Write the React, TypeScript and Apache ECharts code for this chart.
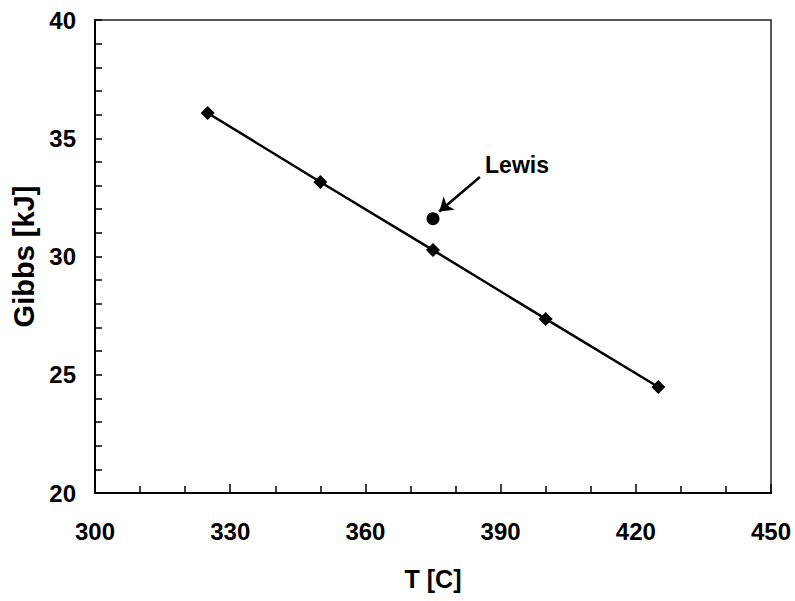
import React, { useEffect, useRef } from "react";
import * as echarts from "echarts";

const temps = [325, 350, 375, 400, 425];
const gibbs = [36.07, 33.15, 30.27, 27.36, 24.48];
const lewisPoint = [375, 31.6];
const arrowFrom = [385.4, 33.36];
const arrowTo = [376.4, 31.9];
const lewisLabel = "Lewis";

export default function App() {
  const ref = useRef<HTMLDivElement>(null);
  useEffect(() => {
    const chart = echarts.init(ref.current!, null, { renderer: "svg" });
    const font = "'Liberation Sans', Arial, sans-serif";
    chart.setOption({
      animation: false,
      backgroundColor: "#fff",
      grid: {
        left: 95,
        right: 24,
        top: 20,
        bottom: 108,
        show: true,
        borderColor: "#222",
        borderWidth: 1.5,
      },
      xAxis: {
        type: "value",
        min: 300,
        max: 450,
        interval: 30,
        name: "T [C]",
        nameLocation: "middle",
        nameGap: 73,
        nameTextStyle: { fontFamily: font, fontWeight: "bold", fontSize: 25, color: "#000" },
        axisLine: { show: true, lineStyle: { color: "#000", width: 2 } },
        axisTick: { show: true, inside: true, length: 9, lineStyle: { color: "#000", width: 1.5 } },
        minorTick: { show: true, splitNumber: 3, length: 7, lineStyle: { color: "#000", width: 1.5 } },
        splitLine: { show: false },
        axisLabel: { fontFamily: font, fontWeight: "bold", fontSize: 24, color: "#000", margin: 26 },
      },
      yAxis: {
        type: "value",
        min: 20,
        max: 40,
        interval: 5,
        name: "Gibbs [kJ]",
        nameLocation: "middle",
        nameGap: 53,
        nameTextStyle: { fontFamily: font, fontWeight: "bold", fontSize: 29, color: "#000" },
        axisLine: { show: true, lineStyle: { color: "#000", width: 2 } },
        axisTick: { show: true, inside: true, length: 7, lineStyle: { color: "#000", width: 1.5 } },
        minorTick: { show: true, splitNumber: 5, length: 7, lineStyle: { color: "#000", width: 1.5 } },
        splitLine: { show: false },
        axisLabel: { fontFamily: font, fontWeight: "bold", fontSize: 24, color: "#000", margin: 19 },
      },
      series: [
        {
          type: "line",
          data: temps.map((t, i) => [t, gibbs[i]]),
          symbol: "diamond",
          symbolSize: 14,
          itemStyle: { color: "#000" },
          lineStyle: { color: "#000", width: 2.5 },
        },
        {
          type: "scatter",
          data: [lewisPoint],
          symbol: "circle",
          symbolSize: 13,
          itemStyle: { color: "#000", opacity: 1 },
          label: {
            show: true,
            formatter: lewisLabel,
            position: "inside",
            offset: [84, -54],
            fontFamily: font,
            fontWeight: "bold",
            fontSize: 23,
            color: "#000",
          },
          markLine: {
            silent: true,
            symbol: ["none", "arrow"],
            symbolSize: 13,
            label: { show: false },
            lineStyle: { color: "#000", width: 2.5, type: "solid", opacity: 1 },
            data: [[{ coord: arrowFrom }, { coord: arrowTo }]],
          },
        },
      ],
    });
    return () => chart.dispose();
  }, []);
  return (
    <div
      ref={ref}
      style={{ position: "absolute", left: 0, top: 0, width: 795, height: 601 }}
    />
  );
}
